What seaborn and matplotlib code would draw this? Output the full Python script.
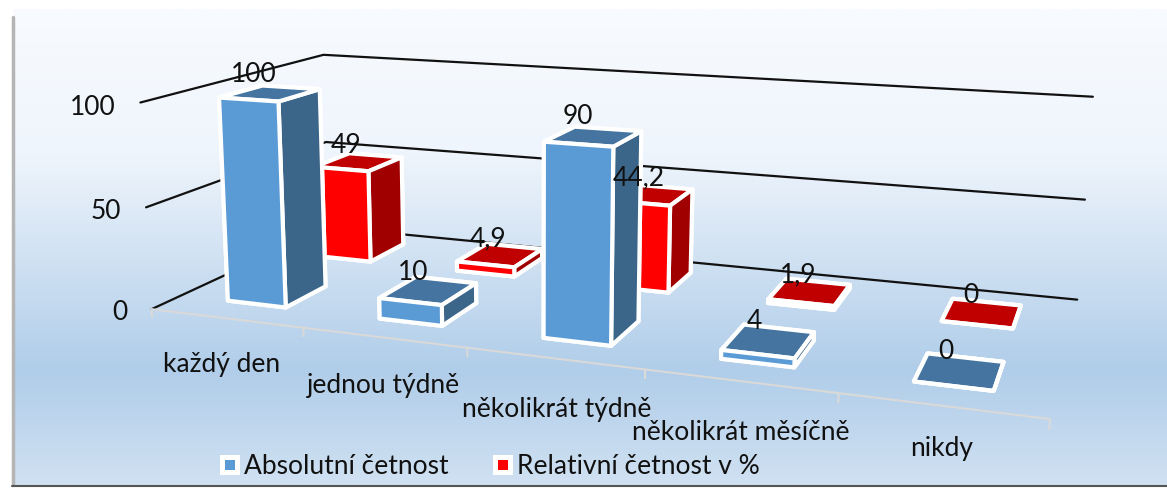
import numpy as np
import matplotlib
matplotlib.use('Agg')
import matplotlib.pyplot as plt
from matplotlib.colors import LinearSegmentedColormap
from matplotlib.lines import Line2D
import seaborn as sns

# chart values
categories = ['každý den', 'jednou týdně', 'několikrát týdně', 'několikrát měsíčně', 'nikdy']
absolutni = [100, 10, 90, 4, 0]
relativni = [49, 4.9, 44.2, 1.9, 0]
value_ticks = [0, 50, 100]
legend_labels = ['Absolutní četnost', 'Relativní četnost v %']

# where the category labels sit, in pixels
category_label_px = [(222, 365), (383, 386), (557, 410), (741, 433), (942, 449)]

W, H = 1167, 489

sns.set_theme(style='white')
plt.rcParams['font.family'] = ['Lato', 'DejaVu Sans']

fig = plt.figure(figsize=(W / 100, H / 100), dpi=100, facecolor='white')

# background panel with the vertical gradient
left, top, bottom = 14, 10, 486
bg = fig.add_axes([left / W, 1 - bottom / H, 1 - left / W, (bottom - top) / H], zorder=0)
grad_cmap = LinearSegmentedColormap.from_list(
    'panel', [(0, '#F8FBFF'), (0.3, '#EFF5FC'), (0.76, '#B0CDE9'), (1, '#D0E1F2')])
bg.imshow(np.linspace(0, 1, 256).reshape(-1, 1), cmap=grad_cmap, aspect='auto')
bg.axis('off')

# panel shadow, left and bottom
fig.add_artist(Line2D([12.5 / W, 12.5 / W], [1 - 486 / H, 1 - 18 / H], color='#B5B5B5', lw=2.5))
fig.add_artist(Line2D([12 / W, 1], [1 - 487 / H, 1 - 487 / H], color='#555555', lw=1.5))

ax = fig.add_axes([0, 0, 1, 1], projection='3d', zorder=1, computed_zorder=False)
ax.set_axis_off()
ax.set_facecolor('none')
ax.set_xticks([])
ax.set_yticks([])
ax.set_zticks([])

# camera: fit the perspective to the corners of the chart box (x, depth, value -> pixel)
world = [(0, 0, 0), (5, 0, 0), (0, 2, 0), (5, 2, 0), (0, 0, 100), (0, 2, 100), (5, 2, 100), (0, 0, 50), (5, 2, 50)]
pixel = [(155, 310), (1050, 420), (325, 228), (1078, 301), (137, 103), (327, 56), (1092, 98), (146, 209), (1085, 200)]
rows, rhs = [], []
for (X, Y, Z), (u, v) in zip(world, pixel):
    rows.append([X, Y, Z, 1, 0, 0, 0, 0, -u * X, -u * Y, -u * Z])
    rows.append([0, 0, 0, 0, X, Y, Z, 1, -v * X, -v * Y, -v * Z])
    rhs += [u, v]
h = np.linalg.lstsq(np.array(rows, float), np.array(rhs, float), rcond=None)[0]
row_u, row_v, row_w = h[:4], h[4:8], np.append(h[8:], 1.0)


def get_proj():
    # pixels -> the 2d coordinates of the axes
    A = ax.transData.inverted().get_matrix()
    flip_v = H * row_w - row_v
    return np.array([
        A[0, 0] * row_u + A[0, 1] * flip_v + A[0, 2] * row_w,
        A[1, 0] * row_u + A[1, 1] * flip_v + A[1, 2] * row_w,
        [0, 0, 0, -1],
        row_w,
    ])


ax.get_proj = get_proj


def label(px, py, s, ha='center'):
    fig.text(px / W, 1 - py / H, s, fontsize=19, color='#111111', ha=ha, va='center', zorder=50)


def label_3d(X, Y, Z, s, ha='center'):
    p = np.array([X, Y, Z, 1.0])
    w = row_w @ p
    label((row_u @ p) / w, (row_v @ p) / w, s, ha)


# walls
for z in value_ticks:
    ax.plot([0, 0, 5], [0, 2, 2], [z, z, z], color='#111111', lw=1.6, zorder=1, clip_on=False)
    label_3d(-0.17, 0, z - 2.5, str(z), ha='right')

# category axis on the floor
ax.plot([0, 5], [0, 0], [0, 0], color='#D9D9D9', lw=1.5, zorder=2, clip_on=False)
for i in range(6):
    ax.plot([i, i], [0, 0], [0, -4], color='#D9D9D9', lw=1.5, zorder=2, clip_on=False)
for name, (px, py) in zip(categories, category_label_px):
    label(px, py, name)

# face order of bar3d: bottom, top, front, back, left, right
blue_faces = ['#44749F', '#44749F', '#5B9BD5', '#3B6589', '#3B6589', '#3B6589']
red_faces = ['#C00000', '#C00000', '#FF0000', '#A00000', '#A00000', '#A00000']
bar_w, bar_d = 0.39, 0.45

order = 10
# back row first, the front row covers it
for vals, faces, x0, y0 in [(relativni, red_faces, 0.31, 1.32), (absolutni, blue_faces, 0.32, 0.29)]:
    for i, val in enumerate(vals):
        poly = ax.bar3d(i + x0, y0, 0, bar_w, bar_d, val, color=faces, shade=False,
                        edgecolor='white', linewidth=3, zorder=order)
        poly.set_clip_on(False)
        order += 1
        label_3d(i + 0.25 + bar_w / 2, y0 + bar_d / 2 - 0.05, val + 10, str(val).replace('.', ','))

handles = [Line2D([], [], marker='s', ls='none', ms=10.8, mfc=c, mec='white', mew=3.6)
           for c in ['#5B9BD5', '#FF0000']]
fig.legend(handles, legend_labels, loc='center', bbox_to_anchor=(488.5 / W, 1 - 467 / H), ncol=2,
           frameon=False, fontsize=19, labelcolor='#111111', handlelength=0.9,
           handletextpad=0.1, columnspacing=1.6)

fig.savefig('out.png', dpi=100)
